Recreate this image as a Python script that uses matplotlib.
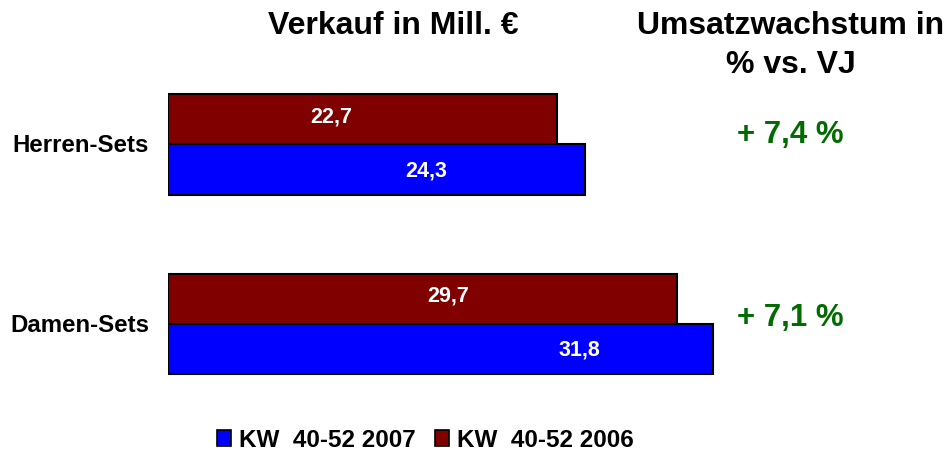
import matplotlib
matplotlib.use("Agg")
import matplotlib.pyplot as plt
from matplotlib.patches import Patch

plt.rcParams['font.family'] = ['Liberation Sans', 'DejaVu Sans']
plt.rcParams['font.weight'] = 'bold'

categories = ['Herren-Sets', 'Damen-Sets']
sales_2007 = [24.3, 31.8]
sales_2006 = [22.7, 29.7]
growth = ['+ 7,4 %', '+ 7,1 %']
label_pos_2007 = [0.62, 0.755]   # label position as share of bar length
label_pos_2006 = [0.42, 0.55]
series_names = ['KW  40-52 2007', 'KW  40-52 2006']

blue = '#0000ff'
red = '#800000'
green = '#006c00'

fig = plt.figure(figsize=(9.46, 4.52), dpi=100)
ax = fig.add_axes([168 / 946, 1 - 410 / 452, 33 * 17.14 / 946, 350 / 452])

ypos = [1, 0]
h = 0.28
ax.barh([y - h / 2 for y in ypos], sales_2007, height=h, color=blue,
        edgecolor='black', linewidth=1.5)
ax.barh([y + h / 2 for y in ypos], sales_2006, height=h, color=red,
        edgecolor='black', linewidth=1.5)

for i, y in enumerate(ypos):
    ax.text(sales_2007[i] * label_pos_2007[i], y - h / 2,
            ('%.1f' % sales_2007[i]).replace('.', ','), color='white',
            fontsize=15.5, ha='center', va='center', fontweight='bold')
    ax.text(sales_2006[i] * label_pos_2006[i], y + h / 2 + 0.02,
            ('%.1f' % sales_2006[i]).replace('.', ','), color='white',
            fontsize=15.5, ha='center', va='center', fontweight='bold')
    ax.text(-1.1, y, categories[i], ha='right', va='center',
            fontsize=17.3, fontweight='bold')

ax.set_xlim(0, 33)
ax.set_ylim(-0.472, 1.475)
ax.axis('off')

fig.text(393 / 946, 1 - 11 / 452, 'Verkauf in Mill. €', ha='center',
         va='top', fontsize=23, fontweight='bold')
fig.text(791 / 946, 1 - 11 / 452, 'Umsatzwachstum in\n% vs. VJ', ha='center',
         va='top', fontsize=23, fontweight='bold', linespacing=1.4)
fig.text(790 / 946, 1 - 135 / 452, growth[0], ha='center', va='center',
         fontsize=22.5, fontweight='bold', color=green)
fig.text(790 / 946, 1 - 318 / 452, growth[1], ha='center', va='center',
         fontsize=22.5, fontweight='bold', color=green)

handles = [Patch(facecolor=blue, edgecolor='black', linewidth=1.2),
           Patch(facecolor=red, edgecolor='black', linewidth=1.2)]
fig.legend(handles, series_names, loc='center', bbox_to_anchor=(425 / 946, 1 - 441 / 452),
           ncol=2, frameon=False, handlelength=0.6,
           handleheight=0.6, handletextpad=0.3, columnspacing=0.8,
           prop={'weight': 'bold', 'size': 17.5})

fig.savefig('out.png', dpi=100)
